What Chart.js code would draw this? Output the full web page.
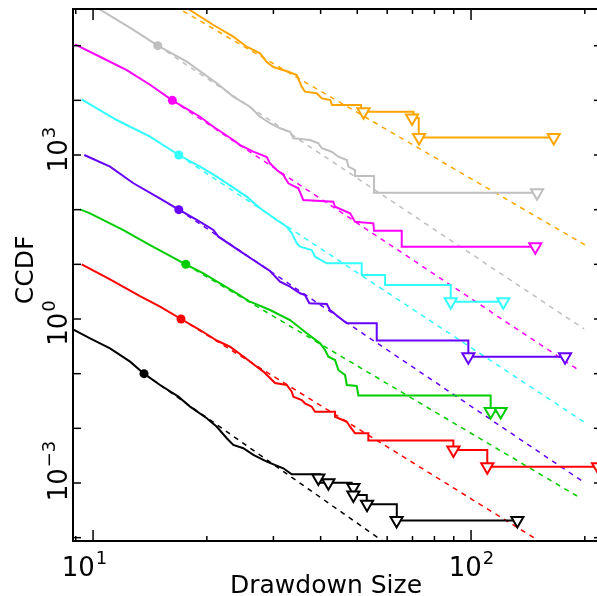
<!DOCTYPE html>
<html>
<head>
<meta charset="utf-8">
<title>Drawdown CCDF</title>
<script src="https://cdn.jsdelivr.net/npm/chart.js@4.4.0/dist/chart.umd.min.js"></script>
<style>
    html, body { margin: 0; padding: 0; overflow: hidden; background: #fff; }
    #chartBox { width: 597px; height: 596px; }
    #chart { display: block; }
</style>
</head>
<body>
<div id="chartBox"><canvas id="chart" width="597" height="596"></canvas></div>
<script>
// ---- data (ccdf normalised to 1 at xmin, each series shifted by one decade) ----
const seriesColors = ['#000000', '#ff0000', '#00cc00', '#6600ff', '#33ffff', '#ff00ff', '#bfbfbf', '#ffa500'];
const seriesShift = [0.1, 1, 10, 100, 1e3, 1e4, 1e5, 1e6];
const xminValues = [13.64, 17.09, 17.59, 16.86, 16.86, 16.21, 14.83, 14.02];
// end of the dashed power-law fit (fit starts at (xmin, 1))
const fitEndX = [64.88, 171.9, 190.7, 196.7, 202.7, 194.3, 199.1, 200.3];
const fitEndY = [5.19e-4, 5.05e-5, 5.78e-5, 1.09e-5, 1.20e-5, 1.12e-5, 6.58e-6, 2.26e-5];

const blackX = [8.59, 9.82, 11.09, 12.53, 13.64, 15.04, 16.82, 18.06, 19.99, 21.25, 22.58, 23.50, 24.98, 26.55, 28.81, 31.87, 33.55, 39.86, 39.86, 48.35, 48.35, 49.33, 49.33, 52.98, 52.98, 63.62, 63.62, 132.6];
const blackY = [7.15, 4.44, 2.91, 1.66, 1, 0.621, 0.380, 0.249, 0.153, 0.107, 0.0658, 0.0496, 0.0432, 0.0326, 0.0246, 0.0186, 0.01445, 0.01445, 0.01014, 0.01014, 0.00746, 0.00746, 0.00604, 0.00604, 0.00408, 0.00408, 0.00205, 0.00205];
const blackTriX = [39.45, 41.94, 48.83, 48.83, 53.07, 63.54, 132.6];
const blackTriY = [0.0124, 0.0101, 0.0083, 0.00604, 0.00408, 0.00205, 0.00205];

const redX = [9.33, 11.09, 13.31, 15.04, 17.09, 19.19, 21.25, 23.03, 25.50, 27.11, 28.22, 30.30, 32.54, 33.55, 33.88, 35.65, 36.37, 37.89, 38.66, 43.67, 43.67, 46.91, 47.86, 49.33, 53.50, 53.50, 89.81, 89.81, 110.4, 110.4, 216.8];
const redY = [10.0, 5.32, 2.63, 1.69, 1, 0.629, 0.404, 0.311, 0.186, 0.134, 0.109, 0.0675, 0.0621, 0.0468, 0.0379, 0.0330, 0.0287, 0.0249, 0.02015, 0.02015, 0.0163, 0.0132, 0.0107, 0.00812, 0.00812, 0.00599, 0.00599, 0.00402, 0.00402, 0.00199, 0.00199];
const redTriX = [89.81, 110.4, 216.8];
const redTriY = [0.00402, 0.00199, 0.00199];

const greenX = [9.24, 9.82, 12.03, 14.15, 17.59, 19.58, 21.68, 24.00, 26.02, 29.39, 33.20, 36.76, 39.86, 41.10, 41.94, 43.67, 44.56, 46.42, 46.91, 49.85, 50.34, 112.7, 112.7, 119.8];
const greenY = [10.14, 8.57, 4.24, 2.25, 1, 0.684, 0.449, 0.295, 0.207, 0.146, 0.0958, 0.0547, 0.0359, 0.0271, 0.0204, 0.0178, 0.0117, 0.00944, 0.0062, 0.00594, 0.00398, 0.00398, 0.00203, 0.00203];
const greenTriX = [112.7, 119.8];
const greenTriY = [0.00203, 0.00203];

const purpleX = [9.48, 11.09, 12.79, 14.74, 16.86, 18.81, 20.81, 21.46, 23.50, 24.98, 26.55, 28.22, 29.39, 31.24, 33.20, 35.29, 36.37, 37.34, 41.52, 42.36, 44.56, 46.91, 56.30, 56.30, 98.37, 98.37, 177.3];
const purpleY = [10.0, 6.12, 3.04, 1.73, 1, 0.648, 0.425, 0.321, 0.211, 0.159, 0.120, 0.0907, 0.0756, 0.0482, 0.0390, 0.0296, 0.0275, 0.0194, 0.0188, 0.0146, 0.0110, 0.00836, 0.00836, 0.00405, 0.00405, 0.00205, 0.00205];
const purpleTriX = [98.37, 177.3];
const purpleTriY = [0.00205, 0.00205];

const cyanX = [9.33, 11.55, 14.15, 16.86, 19.19, 21.25, 23.50, 25.50, 27.66, 30.62, 32.54, 33.55, 34.59, 35.29, 37.89, 38.66, 41.52, 51.38, 51.38, 59.23, 59.23, 88.37, 88.37, 121.7];
const cyanY = [10.4, 4.37, 2.16, 1, 0.611, 0.401, 0.254, 0.173, 0.106, 0.0647, 0.0488, 0.0370, 0.0243, 0.0210, 0.0183, 0.0138, 0.01045, 0.01045, 0.00638, 0.00638, 0.00419, 0.00419, 0.00207, 0.00207];
const cyanTriX = [88.37, 121.7];
const cyanTriY = [0.00207, 0.00207];

const magentaX = [8.96, 10.43, 12.28, 14.15, 16.21, 19.19, 20.81, 23.50, 24.49, 26.55, 28.81, 29.39, 30.62, 31.87, 32.86, 34.92, 36.00, 43.22, 43.67, 47.86, 49.33, 55.15, 55.39, 65.57, 65.57, 147.9];
const magentaY = [10.6, 6.27, 3.58, 1.93, 1, 0.501, 0.329, 0.188, 0.152, 0.115, 0.0918, 0.0704, 0.0531, 0.0430, 0.0303, 0.0246, 0.0150, 0.0140, 0.0113, 0.00857, 0.00602, 0.00563, 0.00412, 0.00412, 0.0021, 0.0021];
const magentaTriX = [147.9];
const magentaTriY = [0.0021];

const greyX = [9.35, 10.43, 12.79, 14.83, 17.70, 21.25, 23.50, 26.02, 27.66, 29.39, 31.24, 33.20, 33.88, 37.51, 39.45, 40.27, 42.80, 44.56, 46.91, 47.37, 49.33, 49.33, 55.39, 55.39, 149.5];
const greyY = [7.30, 4.59, 1.94, 1, 0.510, 0.205, 0.117, 0.0766, 0.0503, 0.0381, 0.0308, 0.0267, 0.0202, 0.0188, 0.0164, 0.0133, 0.0115, 0.00932, 0.00812, 0.00612, 0.00532, 0.00414, 0.00414, 0.00205, 0.00205];
const greyTriX = [149.5];
const greyTriY = [0.00205];

const orangeX = [9.35, 14.02, 17.87, 20.81, 23.50, 25.50, 27.66, 28.81, 29.99, 32.86, 34.59, 35.65, 36.37, 39.06, 40.27, 42.44, 42.88, 51.17, 51.17, 70.45, 70.45, 72.71, 72.71, 165.5];
const orangeY = [10.1, 1, 0.469, 0.239, 0.146, 0.0958, 0.0725, 0.0503, 0.0407, 0.0334, 0.0291, 0.0178, 0.0144, 0.0135, 0.0109, 0.0101, 0.00822, 0.00822, 0.0062, 0.0062, 0.00475, 0.00475, 0.00209, 0.00209];
const orangeTriX = [51.95, 69.81, 72.85, 165.5];
const orangeTriY = [0.0062, 0.00475, 0.00209, 0.00209];

// axis ticks
const xMajorTicks = [10, 100];
const xMinorTicks = [9, 20, 30, 40, 50, 60, 70, 80, 90, 200];
const yDecadeTicks = [1e-4, 1e-3, 1e-2, 1e-1, 1, 10, 100, 1e3, 1e4, 1e5];
const xTickLabels = [{ v: 10, exp: '1' }, { v: 100, exp: '2' }];
const yTickLabels = [{ v: 1e3, exp: '3' }, { v: 1, exp: '0' }, { v: 1e-3, exp: '\u22123' }];

(function () {

    'use strict';

    const curvesX = [blackX, redX, greenX, purpleX, cyanX, magentaX, greyX, orangeX];
    const curvesY = [blackY, redY, greenY, purpleY, cyanY, magentaY, greyY, orangeY];
    const trisX = [blackTriX, redTriX, greenTriX, purpleTriX, cyanTriX, magentaTriX, greyTriX, orangeTriX];
    const trisY = [blackTriY, redTriY, greenTriY, purpleTriY, cyanTriY, magentaTriY, greyTriY, orangeTriY];

    const FONT = '"DejaVu Sans", sans-serif';

    window.addEventListener("load", init);

    function init() {
        let datasets = [];
        for (let i = 0; i < curvesX.length; i++) {
            let color = seriesColors[i];
            let shift = seriesShift[i];

            // open down triangles
            datasets.push({
                data: toPoints(trisX[i], trisY[i], shift),
                showLine: false,
                pointStyle: 'triangle',
                rotation: 180,
                pointRadius: 7,
                pointBorderWidth: 2,
                pointBorderColor: color,
                pointBackgroundColor: '#ffffff',
                order: 0
            });
            // xmin dot
            datasets.push({
                data: [{ x: xminValues[i], y: shift }],
                showLine: false,
                pointStyle: 'circle',
                pointRadius: 4.5,
                pointBorderWidth: 0,
                pointBackgroundColor: color,
                order: 0
            });
            // empirical ccdf
            datasets.push({
                data: toPoints(curvesX[i], curvesY[i], shift),
                borderColor: color,
                borderWidth: 2,
                pointRadius: 0,
                order: 1
            });
            // power-law fit
            datasets.push({
                data: toPoints([xminValues[i], fitEndX[i]], [1, fitEndY[i]], shift),
                borderColor: color,
                borderWidth: 1.5,
                borderDash: [5, 5],
                pointRadius: 0,
                order: 2
            });
        }

        new Chart(id("chart"), {
            type: 'line',
            data: { datasets: datasets },
            options: {
                responsive: false,
                devicePixelRatio: 1,
                animation: false,
                layout: { autoPadding: false, padding: { left: 73, top: 9, right: 0, bottom: 55 } },
                elements: { line: { tension: 0 } },
                plugins: { legend: { display: false }, tooltip: { enabled: false } },
                scales: {
                    x: { type: 'logarithmic', min: 8.85, max: 215.4, display: false },
                    y: { type: 'logarithmic', min: Math.pow(10, -4.061), max: Math.pow(10, 5.671), display: false }
                }
            },
            plugins: [frame]
        });
    }

    function toPoints(xs, ys, shift) {
        return xs.map((x, i) => ({ x: x, y: ys[i] * shift }));
    }

    // frame, inward ticks and 10^n labels drawn from the chart scales
    // (the right spine of the box lies just outside the picture)
    const frame = {
        id: 'frame',
        afterDatasetsDraw(chart) {
            let ctx = chart.ctx;
            let a = chart.chartArea;
            let sx = chart.scales.x;
            let sy = chart.scales.y;
            ctx.save();
            ctx.strokeStyle = '#000';
            ctx.lineWidth = 2;
            ctx.beginPath();
            ctx.moveTo(a.right + 5, a.top);
            ctx.lineTo(a.left, a.top);
            ctx.lineTo(a.left, a.bottom);
            ctx.lineTo(a.right + 5, a.bottom);
            ctx.stroke();

            ctx.lineWidth = 1.5;
            xMajorTicks.concat(xMinorTicks).forEach((v) => {
                let px = sx.getPixelForValue(v);
                if (px < a.left || px > a.right) return;
                let len = xMajorTicks.includes(v) ? 11 : 5;
                seg(ctx, px, a.bottom, px, a.bottom - len);
                seg(ctx, px, a.top, px, a.top + len);
            });
            yDecadeTicks.forEach((v) => {
                let py = sy.getPixelForValue(v);
                seg(ctx, a.left, py, a.left + 8, py);
                seg(ctx, a.right + 5, py, a.right - 3, py);
            });

            ctx.fillStyle = '#000';
            ctx.textBaseline = 'alphabetic';
            xTickLabels.forEach((t, i) => {
                let cx = sx.getPixelForValue(t.v) + (i === 0 ? -9 : 0);
                power(ctx, t.exp, cx, 576);
            });
            yTickLabels.forEach((t, i) => {
                let cy = sy.getPixelForValue(t.v) + [-5, 4.5, -11.5][i];
                ctx.save();
                ctx.translate(67, cy);
                ctx.rotate(-Math.PI / 2);
                power(ctx, t.exp, 0, 0);
                ctx.restore();
            });

            ctx.font = '25px ' + FONT;
            ctx.textAlign = 'center';
            ctx.fillText('Drawdown Size', 326, 593);
            ctx.save();
            ctx.translate(33, 270);
            ctx.rotate(-Math.PI / 2);
            ctx.fillText('CCDF', 0, 0);
            ctx.restore();
            ctx.restore();
        }
    };

    function power(ctx, exp, cx, base) {
        ctx.textAlign = 'left';
        ctx.font = '26px ' + FONT;
        let w1 = ctx.measureText('10').width;
        ctx.font = '18px ' + FONT;
        let w2 = ctx.measureText(exp).width;
        let left = cx - (w1 + w2) / 2;
        ctx.font = '26px ' + FONT;
        ctx.fillText('10', left, base);
        ctx.font = '18px ' + FONT;
        ctx.fillText(exp, left + w1 + 1, base - 12);
    }

    function seg(ctx, x1, y1, x2, y2) {
        ctx.beginPath();
        ctx.moveTo(x1, y1);
        ctx.lineTo(x2, y2);
        ctx.stroke();
    }

    /**
     * Returns the element that has the ID attribute with the specified value.
     * @param {string} idName - element ID
     * @returns {object} DOM object associated with id.
     */
    function id(idName) {
        return document.getElementById(idName);
    }

})();
</script>
</body>
</html>
